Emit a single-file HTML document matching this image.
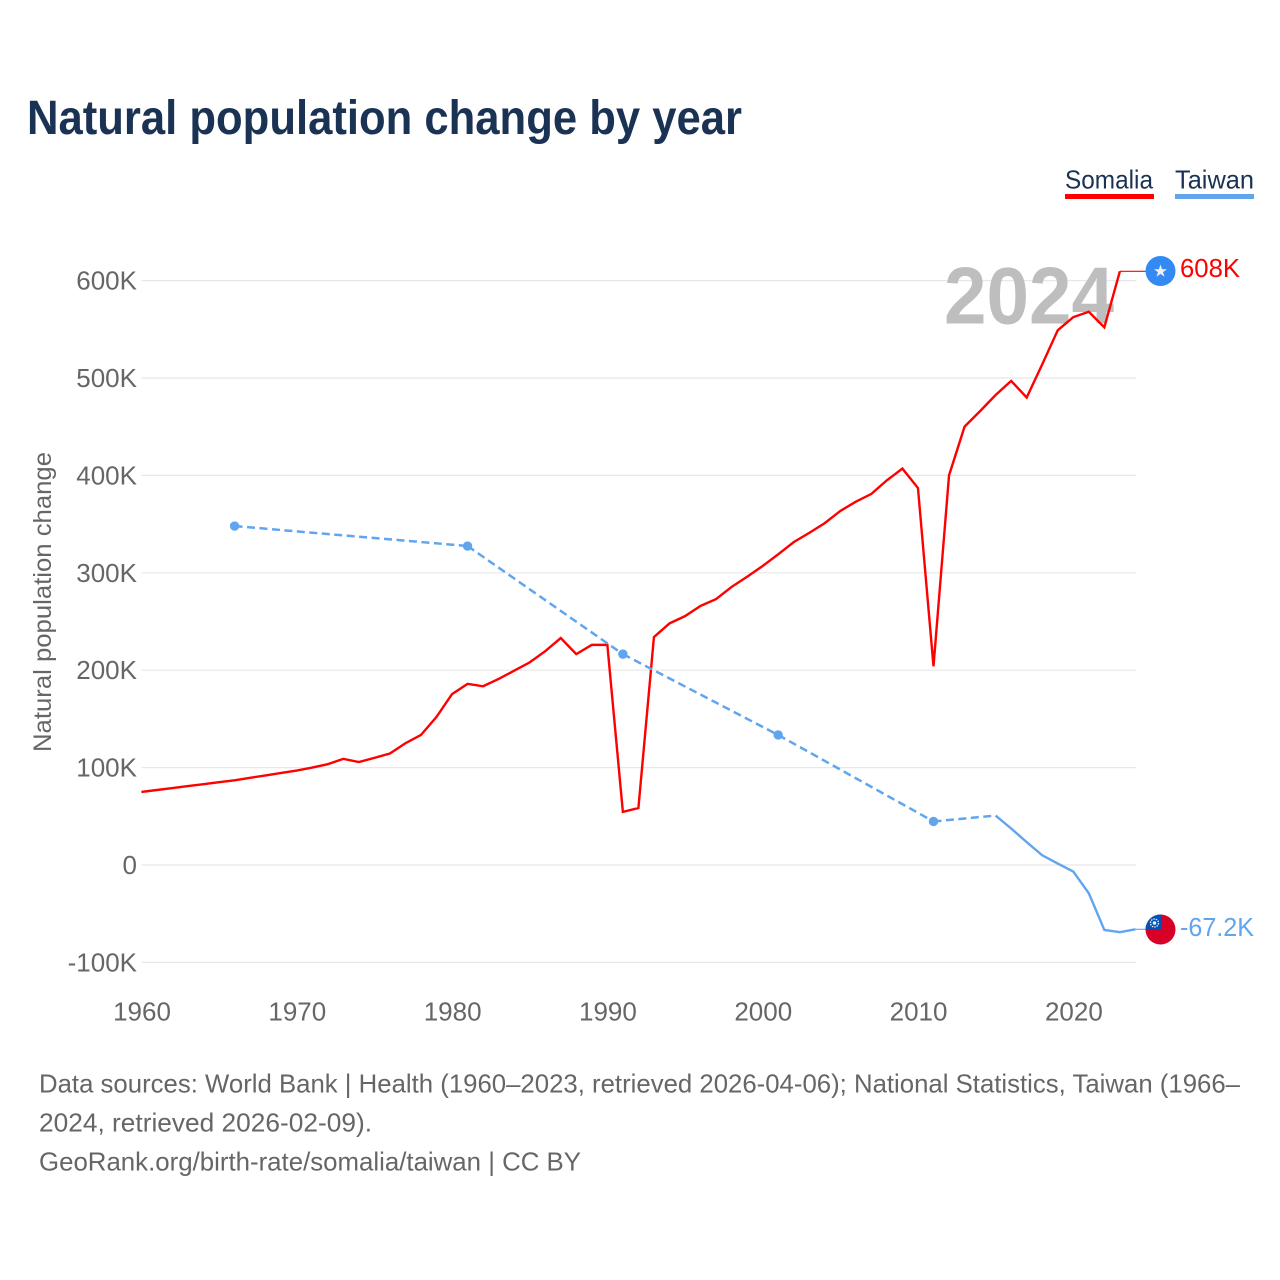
<!DOCTYPE html>
<html lang="en">
<head>
<meta charset="utf-8">
<title>Natural population change by year</title>
<style>
html,body{margin:0;padding:0;background:#fff;width:1280px;height:1280px;overflow:hidden}
svg{display:block;font-family:"Liberation Sans",sans-serif}
</style>
</head>
<body>
<svg id="chart" xmlns="http://www.w3.org/2000/svg" width="1280" height="1280" viewBox="0 0 1280 1280">
  <rect width="1280" height="1280" fill="#fff"/>
  <text x="27" y="134" font-size="48" font-weight="700" fill="#1a3253" textLength="715" lengthAdjust="spacingAndGlyphs">Natural population change by year</text>

  <g>
    <text x="1065" y="188.5" font-size="26" fill="#1a3253" textLength="88" lengthAdjust="spacingAndGlyphs">Somalia</text>
    <rect x="1065" y="194" width="89" height="5" fill="#ff0000"/>
  </g>
  <g>
    <text x="1175" y="188.5" font-size="26" fill="#1a3253" textLength="79" lengthAdjust="spacingAndGlyphs">Taiwan</text>
    <rect x="1175" y="194" width="79" height="5" fill="#60a5ee"/>
  </g>

  <g id="grid"></g>
  <text x="944" y="323.5" font-size="81" font-weight="700" fill="#bebebe" textLength="170" lengthAdjust="spacingAndGlyphs">2024</text>
  <g id="yticks"></g>
  <g id="xticks"></g>
  <text transform="translate(51,602) rotate(-90)" text-anchor="middle" font-size="25" fill="#666" textLength="300" lengthAdjust="spacingAndGlyphs">Natural population change</text>

  <g id="series"></g>

  <g id="somalia-end">
    <circle cx="1160.5" cy="271" r="15" fill="#338af3"/>
    <polygon fill="#f0f0f0" points="1160.5,264.5 1162.1,269.2 1167,269.2 1163,272.1 1164.5,276.8 1160.5,273.9 1156.5,276.8 1158,272.1 1154,269.2 1158.9,269.2"/>
    <text x="1180" y="277" font-size="25.5" fill="#ff0000" textLength="60" lengthAdjust="spacingAndGlyphs">608K</text>
  </g>
  <g id="taiwan-end">
    <clipPath id="flag-clip"><circle cx="1160.5" cy="929.5" r="15"/></clipPath>
    <g clip-path="url(#flag-clip)">
      <rect x="1145" y="914" width="31" height="31" fill="#d80027"/>
      <rect x="1145" y="914" width="16" height="16" fill="#0052b4"/>
      <circle cx="1154.5" cy="923" r="4" fill="none" stroke="#f0f0f0" stroke-width="1.3" stroke-dasharray="1.5 1"/>
      <circle cx="1154.5" cy="923" r="1.8" fill="#f0f0f0"/>
    </g>
    <text x="1180" y="936" font-size="25.5" fill="#60a5ee" textLength="74" lengthAdjust="spacingAndGlyphs">-67.2K</text>
  </g>

  <g font-size="26" fill="#666">
    <text x="39" y="1092.5" textLength="1201" lengthAdjust="spacingAndGlyphs">Data sources: World Bank | Health (1960–2023, retrieved 2026-04-06); National Statistics, Taiwan (1966–</text>
    <text x="39" y="1131.5" textLength="333" lengthAdjust="spacingAndGlyphs">2024, retrieved 2026-02-09).</text>
    <text x="39" y="1170.5" textLength="542" lengthAdjust="spacingAndGlyphs">GeoRank.org/birth-rate/somalia/taiwan | CC BY</text>
  </g>
</svg>
<script>
const yTickValues = [-100, 0, 100, 200, 300, 400, 500, 600];
const yTickLabels = ["-100K", "0", "100K", "200K", "300K", "400K", "500K", "600K"];
const xTickValues = [1960, 1970, 1980, 1990, 2000, 2010, 2020];
const somaliaYears = [1960,1961,1962,1963,1964,1965,1966,1967,1968,1969,1970,1971,1972,1973,1974,1975,1976,1977,1978,1979,1980,1981,1982,1983,1984,1985,1986,1987,1988,1989,1990,1991,1992,1993,1994,1995,1996,1997,1998,1999,2000,2001,2002,2003,2004,2005,2006,2007,2008,2009,2010,2011,2012,2013,2014,2015,2016,2017,2018,2019,2020,2021,2022,2023];
const somaliaValues = [75,77,79,81,83,85,87,89.5,92,94.5,97,100,103.5,109,105.7,110,114.5,125,133.5,152,175.5,186,183.5,191,199.5,208,219.5,233,216.5,226,226,54.5,58.5,234,248,255.5,266,273,285.5,296,307,319,331.5,341,351,363.5,373,381,395,407,387,204,400,450,466,482.5,497,480,514,549,562.5,568,552,609.5];
const taiwanYears = [1966,1981,1991,2001,2011,2015,2016,2017,2018,2019,2020,2021,2022,2023,2024];
const taiwanValues = [348,327.5,216.5,133.5,44.7,50.8,37.5,23.5,10,1.5,-6.7,-29,-66.7,-69,-66];

const SVG_NS = "http://www.w3.org/2000/svg";
const xScale = year => 141.4 + (year - 1960) * (1135.4 - 141.4) / 64;
const yScale = value => 865 - value * 0.974;

function make(tag, attrs, parent) {
  const el = document.createElementNS(SVG_NS, tag);
  Object.keys(attrs).forEach(k => el.setAttribute(k, attrs[k]));
  parent.appendChild(el);
  return el;
}

const gridLayer = document.getElementById("grid");
const yTickLayer = document.getElementById("yticks");
const xTickLayer = document.getElementById("xticks");
const seriesLayer = document.getElementById("series");

yTickValues.forEach((value, i) => {
  const line = make("line", {x1: 141.5, x2: 1136, y1: yScale(value), y2: yScale(value), stroke: "#e8e8e8", "stroke-width": 1.2}, gridLayer);
  
  
  const label = make("text", {x: 137, y: yScale(value) + 9, "text-anchor": "end", "font-size": 26, fill: "#666"}, yTickLayer);
  
  
  label.textContent = yTickLabels[i];
});

xTickValues.forEach(year => {
  const label = make("text", {x: xScale(year) + 0.6, y: 1020.5, "text-anchor": "middle", "font-size": 26, fill: "#666"}, xTickLayer);
  
  
  label.textContent = String(year);
});

/* Somalia: connected line, thin leader to its flag marker */
const somaliaPath = somaliaYears.map((y, i) => xScale(y) + "," + yScale(somaliaValues[i])).join(" ");
const somaliaLast = somaliaValues[somaliaValues.length - 1];
const somaliaLeader = make("line", {x1: xScale(2023), x2: 1146, y1: yScale(somaliaLast), y2: yScale(somaliaLast), stroke: "#ff0000", "stroke-width": 1.1}, seriesLayer);


const somaliaLine = make("polyline", {points: somaliaPath, fill: "none", stroke: "#ff0000", "stroke-width": 2.4, "stroke-linejoin": "miter"}, seriesLayer);



/* Taiwan: solid between consecutive years, dashed across data gaps */
const taiwanLast = taiwanValues[taiwanValues.length - 1];
const taiwanLeader = make("line", {x1: xScale(2024), x2: 1146, y1: yScale(taiwanLast), y2: yScale(taiwanLast), stroke: "#60a5ee", "stroke-width": 1.1}, seriesLayer);



let solidRun = [];
function flushRun() {
  if (solidRun.length > 1) {
    const run = make("polyline", {points: solidRun.join(" "), fill: "none", stroke: "#60a5ee", "stroke-width": 2.4}, seriesLayer);
    
    
  }
  solidRun = [];
}
taiwanYears.forEach((year, i) => {
  const px = xScale(year), py = yScale(taiwanValues[i]);
  const nextYear = taiwanYears[i + 1];
  const prevYear = taiwanYears[i - 1];
  const consecutiveNext = nextYear === year + 1;
  const consecutivePrev = prevYear === year - 1;
  if (consecutiveNext || consecutivePrev) solidRun.push(px + "," + py);
  if (!consecutiveNext) flushRun();
  if (nextYear !== undefined && !consecutiveNext) {
    const dash = make("line", {x1: px, y1: py, x2: xScale(nextYear), y2: yScale(taiwanValues[i + 1]), stroke: "#60a5ee", "stroke-width": 2.5, "stroke-dasharray": "8 4.5"}, seriesLayer);
    
    
  }
  if (!consecutiveNext && !consecutivePrev) {
    const dot = make("circle", {cx: px, cy: py, r: 4.7, fill: "#60a5ee"}, seriesLayer);
    
    
  }
});
</script>
</body>
</html>
